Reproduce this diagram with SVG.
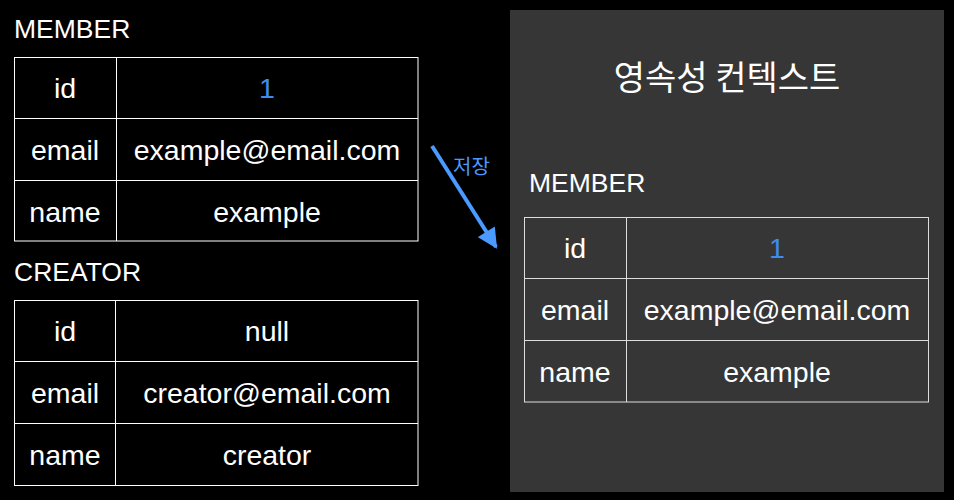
<svg xmlns="http://www.w3.org/2000/svg" width="954" height="500" viewBox="0 0 954 500">
<defs>
<style>
.bg{fill:#000}
.panel{fill:#363636}
.cell{fill:none;stroke:#fff;stroke-width:1}
.cellr{fill:none;stroke:#ddd;stroke-width:1}
.t{font-family:"Liberation Sans",Arial,sans-serif;font-size:28.5px;fill:#fff;text-anchor:middle}
.h{font-family:"Liberation Sans",Arial,sans-serif;font-size:26.5px;fill:#fff}
.blue{fill:#3f8cf0}
.title{font-family:"Noto Sans CJK KR","Noto Sans",sans-serif;font-size:34px;font-weight:400;fill:#fff;text-anchor:middle}
.lbl{font-family:"Noto Sans CJK KR","Noto Sans",sans-serif;font-size:20px;fill:#4a9aff}
</style>
<marker id="ah" viewBox="0 0 10 10" refX="9" refY="5" markerWidth="5.5" markerHeight="5" orient="auto" markerUnits="strokeWidth">
<path d="M0,0 L10,5 L0,10 z" fill="#4a9aff"/>
</marker>
</defs>
<rect class="bg" x="0" y="0" width="954" height="500"/>
<rect class="panel" x="510" y="10" width="434" height="482"/>

<g id="member-left">
<text class="h" x="14" y="38">MEMBER</text>
<rect class="cell" x="14.5" y="57.5" width="403.5" height="183.5"/>
<line class="cell" x1="116.5" y1="57.5" x2="116.5" y2="241"/>
<line class="cell" x1="14.5" y1="118.5" x2="418" y2="118.5"/>
<line class="cell" x1="14.5" y1="180.5" x2="418" y2="180.5"/>
<text class="t" x="65" y="98">id</text>
<text class="t blue" x="267" y="98">1</text>
<text class="t" x="65" y="160">email</text>
<text class="t" x="267" y="160">example@email.com</text>
<text class="t" x="65" y="222">name</text>
<text class="t" x="267" y="222">example</text>
</g>

<g id="creator">
<text class="h" x="14" y="281">CREATOR</text>
<rect class="cell" x="14.5" y="300.5" width="403.5" height="185"/>
<line class="cell" x1="115.5" y1="300.5" x2="115.5" y2="485.5"/>
<line class="cell" x1="14.5" y1="361.5" x2="418" y2="361.5"/>
<line class="cell" x1="14.5" y1="423.5" x2="418" y2="423.5"/>
<text class="t" x="65" y="341">id</text>
<text class="t" x="267" y="341">null</text>
<text class="t" x="65" y="403">email</text>
<text class="t" x="267" y="403">creator@email.com</text>
<text class="t" x="65" y="465">name</text>
<text class="t" x="267" y="465">creator</text>
</g>

<g id="context">
<text class="title" x="727" y="90">영속성 컨텍스트</text>
<text class="h" x="529" y="192">MEMBER</text>
<rect class="cellr" x="524.5" y="217.5" width="404" height="184.5"/>
<line class="cellr" x1="626.5" y1="217.5" x2="626.5" y2="402"/>
<line class="cellr" x1="524.5" y1="278.5" x2="928.5" y2="278.5"/>
<line class="cellr" x1="524.5" y1="340.5" x2="928.5" y2="340.5"/>
<text class="t" x="575" y="258">id</text>
<text class="t blue" x="777" y="258">1</text>
<text class="t" x="575" y="320">email</text>
<text class="t" x="777" y="320">example@email.com</text>
<text class="t" x="575" y="382">name</text>
<text class="t" x="777" y="382">example</text>
</g>

<g id="connectors">
<line x1="432" y1="146" x2="496" y2="247" stroke="#4a9aff" stroke-width="4" marker-end="url(#ah)"/>
<text class="lbl" x="453" y="174">저장</text>
</g>
</svg>
